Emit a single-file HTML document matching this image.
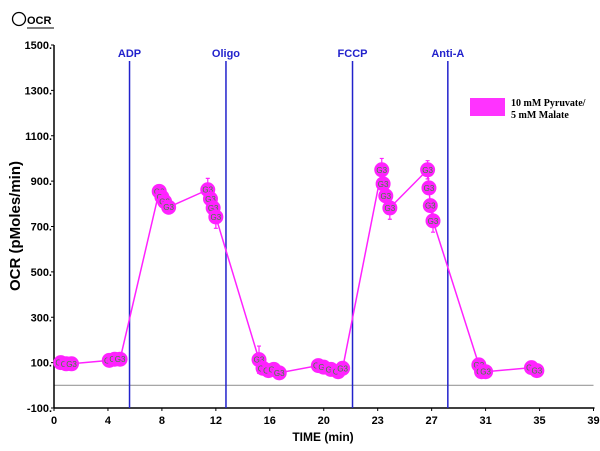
<!DOCTYPE html>
<html><head><meta charset="utf-8"><style>
body{margin:0;background:#fff;width:600px;height:451px;overflow:hidden}
svg{display:block;font-family:"Liberation Sans",Arial,sans-serif}
</style></head><body>
<svg id="chart" width="600" height="451" viewBox="0 0 600 451">
<g>
<circle cx="19" cy="19" r="6.5" fill="none" stroke="#000" stroke-width="1.3"/>
<text x="27" y="24" font-size="11" font-weight="bold">OCR</text>
<line x1="27" y1="28" x2="54" y2="28" stroke="#000" stroke-width="1"/>
</g>
<g id="axes"></g><g id="events"></g><g id="series"></g>
<g>
<rect x="470" y="98" width="35" height="18" fill="#ff33ff"/>
<text x="511" y="106" font-family="'Liberation Serif',serif" font-weight="bold" font-size="10">10 mM Pyruvate/</text>
<text x="511" y="118" font-family="'Liberation Serif',serif" font-weight="bold" font-size="10">5 mM Malate</text>
</g>
<text transform="translate(20,226) rotate(-90)" text-anchor="middle" font-size="15" font-weight="bold">OCR (pMoles/min)</text>
<text x="323" y="441" text-anchor="middle" font-size="12" font-weight="bold">TIME (min)</text>
</svg>
<script>
const xTicks=[0,4,8,12,16,20,23,27,31,35,39];
const yTicks=[-100,100,300,500,700,900,1100,1300,1500];
const times=[0.5,0.9,1.3, 4.1,4.5,4.9, 7.8,8.0,8.2,8.5, 11.4,11.6,11.8,12.0, 15.2,15.5,15.9,16.3,16.7, 19.6,20.0,20.4,20.8,21.05, 23.3,23.4,23.6,23.9, 26.7,26.8,26.9,27.1, 30.5,30.7,31.0, 34.4,34.8];
const ocr=[100,95,95, 110,115,115, 855,830,810,785, 862,822,782,742, 113,75,65,70,55, 87,80,70,60,75, 950,888,835,782, 950,870,792,725, 90,60,60, 78,65];
const errs=[0,0,0, 0,0,0, 0,0,0,30, 50,0,0,50, 60,0,0,0,0, 0,0,0,0,0, 50,0,0,50, 40,0,0,50, 0,0,0, 0,0];
const events=["ADP","Oligo","FCCP","Anti-A"];
const eventTimes=[5.6,12.75,21.6,28.2];
const NS="http://www.w3.org/2000/svg";
const X0=54,X1=593.5,YT=45,YB=408;
function xs(t){const n=xTicks.length-1,w=(X1-X0)/n;for(let i=0;i<n;i++){if(t<=xTicks[i+1]||i==n-1){return X0+w*(i+(t-xTicks[i])/(xTicks[i+1]-xTicks[i]));}}}
function ys(v){return YB-(v-(-100))/1600*(YB-YT);}
function mk(tag,attrs,parent){const e=document.createElementNS(NS,tag);for(const k in attrs)e.setAttribute(k,attrs[k]);parent.appendChild(e);return e;}
const ax=document.getElementById('axes');
let l=mk('line',{x1:X0,y1:ys(0),x2:X1,y2:ys(0),stroke:'#999','stroke-width':1.2},ax);

l=mk('line',{x1:X0,y1:YT,x2:X0,y2:YB,stroke:'#000','stroke-width':1.5},ax);

l=mk('line',{x1:X0,y1:YB,x2:X1+1,y2:YB,stroke:'#000','stroke-width':1.5},ax);

yTicks.forEach(v=>{const y=ys(v);mk('line',{x1:X0-3,y1:y,x2:X0,y2:y,stroke:'#000'},ax);
const t=mk('text',{x:X0-2,y:y+4,'text-anchor':'end','font-size':11,'font-weight':'bold'},ax);t.textContent=v+'.';
});
xTicks.forEach(v=>{const x=xs(v);mk('line',{x1:x,y1:YB,x2:x,y2:YB+3,stroke:'#000'},ax);
const t=mk('text',{x:x,y:YB+16,'text-anchor':'middle','font-size':11,'font-weight':'bold'},ax);t.textContent=v;
});
const ev=document.getElementById('events');
events.forEach((n,i)=>{const x=xs(eventTimes[i]);
const ln=mk('line',{x1:x,y1:61,x2:x,y2:YB,stroke:'#2222cc','stroke-width':1.5},ev);

const t=mk('text',{x:x,y:57,'text-anchor':'middle','font-size':11,'font-weight':'bold',fill:'#2222cc'},ev);t.textContent=n;
});
const se=document.getElementById('series');
const pl=mk('polyline',{points:times.map((t,i)=>xs(t)+','+ys(ocr[i])).join(' '),fill:'none',stroke:'#ff22ff','stroke-width':1.5},se);

times.forEach((t,i)=>{if(errs[i]>0){const x=xs(t);const e=mk('path',{d:`M${x},${ys(ocr[i]-errs[i])}V${ys(ocr[i]+errs[i])}M${x-2},${ys(ocr[i]-errs[i])}h4M${x-2},${ys(ocr[i]+errs[i])}h4`,stroke:'#ff22ff','stroke-width':1.2,fill:'none'},se);
}});
times.forEach((t,i)=>{const x=xs(t),y=ys(ocr[i]);
const g=mk('g',{},se);

mk('circle',{cx:x,cy:y,r:7.5,fill:'#ff22ff'},g);
const tx=mk('text',{x:x,y:y+3,'text-anchor':'middle','font-size':8,fill:'#3a8a3a'},g);tx.textContent='G3';});
</script>
</body></html>
